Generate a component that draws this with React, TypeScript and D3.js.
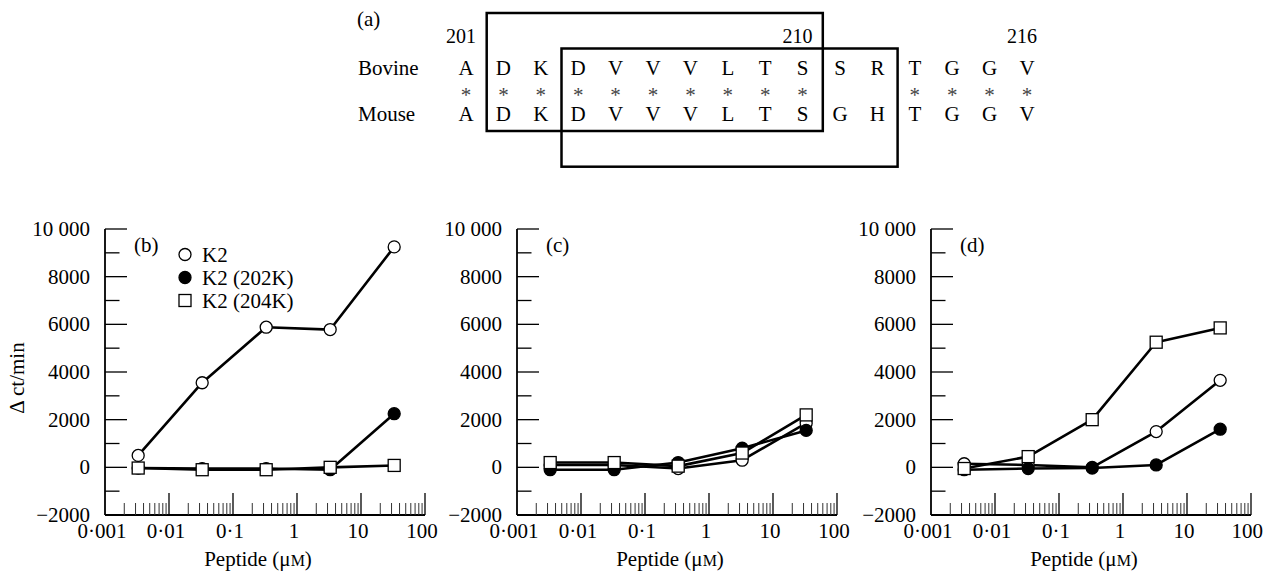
import React, { useEffect, useRef } from 'react';
import * as d3 from 'd3';

// peptide concentrations (µM) tested in every panel
const concentrations = [0.0033, 0.033, 0.33, 3.3, 33];

// panel (b)
const panelB_K2 = [500, 3550, 5880, 5780, 9250];
const panelB_202K = [-30, -50, -50, -100, 2250];
const panelB_204K = [-30, -100, -100, 0, 80];
// panel (c)
const panelC_K2 = [100, 100, -50, 300, 1850];
const panelC_202K = [-100, -100, 200, 800, 1550];
const panelC_204K = [200, 200, 50, 600, 2200];
// panel (d)
const panelD_K2 = [150, 100, 0, 1500, 3650];
const panelD_202K = [-100, -50, -30, 100, 1600];
const panelD_204K = [-50, 450, 2000, 5250, 5850];

const seriesNames = ['K2', 'K2 (202K)', 'K2 (204K)'];
const panelNames = ['(b)', '(c)', '(d)'];

// sequence alignment, residues 201-216
const firstResidue = 201;
const bovineSeq = ['A', 'D', 'K', 'D', 'V', 'V', 'V', 'L', 'T', 'S', 'S', 'R', 'T', 'G', 'G', 'V'];
const mouseSeq = ['A', 'D', 'K', 'D', 'V', 'V', 'V', 'L', 'T', 'S', 'G', 'H', 'T', 'G', 'G', 'V'];
const numberedResidues = [201, 210, 216];
const boxedRanges = [[202, 210], [204, 212]];

const yMajor = [-2000, 0, 2000, 4000, 6000, 8000, 10000];
const yMinor = [-1000, 1000, 3000, 5000, 7000, 9000];
const xMajor = [0.001, 0.01, 0.1, 1, 10, 100];
const xMajorLabels = ['0·001', '0·01', '0·1', '1', '10', '100'];

const FONT = '"Liberation Serif", "Times New Roman", serif';

const App = () => {
  const ref = useRef(null);

  useEffect(() => {
    document.body.style.margin = '0';
    const svg = d3.select(ref.current);
    svg.selectAll('*').remove();
    svg.attr('font-family', FONT).attr('fill', '#000');

    // ---------- (a) sequence alignment ----------
    const residues = d3.range(firstResidue, firstResidue + bovineSeq.length);
    const sx = d3.scaleLinear().domain([201, 216]).range([466, 1027]);
    const seq = svg.append('g').attr('font-size', 21);

    seq.append('text').attr('x', 357).attr('y', 26).text('(a)');
    seq.selectAll('.num').data(numberedResidues).join('text')
      .attr('x', d => sx(d) - 5).attr('y', 43).attr('font-size', 20)
      .attr('text-anchor', 'middle').text(d => d);

    seq.append('text').attr('x', 358).attr('y', 75).text('Bovine');
    seq.append('text').attr('x', 358).attr('y', 121).text('Mouse');

    seq.selectAll('.bov').data(bovineSeq).join('text')
      .attr('x', (d, i) => sx(residues[i])).attr('y', 75)
      .attr('text-anchor', 'middle').text(d => d);
    seq.selectAll('.mou').data(mouseSeq).join('text')
      .attr('x', (d, i) => sx(residues[i])).attr('y', 121)
      .attr('text-anchor', 'middle').text(d => d);
    seq.selectAll('.ast').data(bovineSeq.map((d, i) => (d === mouseSeq[i] ? residues[i] : null)).filter(d => d !== null))
      .join('text')
      .attr('x', d => sx(d)).attr('y', 102)
      .attr('text-anchor', 'middle').attr('fill', '#444').text('*');

    const boxY = [[13, 131], [48.5, 166.7]];
    boxedRanges.forEach(([a, b], i) => {
      const x0 = sx(a - 0.5) + 2;
      const x1 = sx(b + 0.5) + 1.5;
      seq.append('rect')
        .attr('x', x0).attr('y', boxY[i][0])
        .attr('width', x1 - x0).attr('height', boxY[i][1] - boxY[i][0])
        .attr('fill', 'none').attr('stroke', '#000').attr('stroke-width', 2.5);
    });

    // ---------- (b)-(d) dose response panels ----------
    const panels = [
      [panelB_K2, panelB_202K, panelB_204K],
      [panelC_K2, panelC_202K, panelC_204K],
      [panelD_K2, panelD_202K, panelD_204K],
    ];
    const panelLeft = [105, 517, 931];
    const top = 229;
    const w = 320;
    const h = 286;

    const x = d3.scaleLog().domain([0.001, 100]).range([0, w]);
    const y = d3.scaleLinear().domain([-2000, 10000]).range([h, 0]);
    const xMinor = xMajor.slice(0, -1).flatMap(d => d3.range(2, 10).map(k => d * k));
    const fmtY = v => (v === 10000 ? '10 000' : v < 0 ? '\u2212' + Math.abs(v) : String(v));

    panels.forEach((series, p) => {
      const g = svg.append('g').attr('transform', `translate(${panelLeft[p]},${top})`);

      // axes
      g.append('line').attr('x1', 0).attr('x2', 0).attr('y1', 0).attr('y2', h)
        .attr('stroke', '#000').attr('stroke-width', 1.8);
      g.append('line').attr('x1', 0).attr('x2', w).attr('y1', h).attr('y2', h)
        .attr('stroke', '#000').attr('stroke-width', 1.8);

      g.selectAll('.ymaj').data(yMajor).join('line')
        .attr('x1', 0).attr('x2', 22).attr('y1', d => y(d)).attr('y2', d => y(d))
        .attr('stroke', '#000').attr('stroke-width', 1.3);
      g.selectAll('.ymin').data(yMinor).join('line')
        .attr('x1', 0).attr('x2', 14.5).attr('y1', d => y(d)).attr('y2', d => y(d))
        .attr('stroke', '#000').attr('stroke-width', 1.3);
      g.selectAll('.ylab').data(yMajor).join('text')
        .attr('x', -15).attr('y', d => y(d) + 7)
        .attr('text-anchor', 'end').attr('font-size', 21).text(fmtY);

      g.selectAll('.xmaj').data(xMajor.slice(1)).join('line')
        .attr('x1', d => x(d)).attr('x2', d => x(d)).attr('y1', h).attr('y2', h - 22)
        .attr('stroke', '#000').attr('stroke-width', 1.3);
      g.selectAll('.xmin').data(xMinor).join('line')
        .attr('x1', d => x(d)).attr('x2', d => x(d)).attr('y1', h).attr('y2', h - 12)
        .attr('stroke', '#333').attr('stroke-width', 1);
      const last = xMajor.length - 1;
      g.selectAll('.xlab').data(xMajor).join('text')
        .attr('x', (d, i) => (p === 2 && i === last ? x(d) + 12 : x(d) - 3)).attr('y', h + 23)
        .attr('text-anchor', (d, i) => (p === 2 && i === last ? 'end' : 'middle'))
        .attr('font-size', 21)
        .text((d, i) => xMajorLabels[i]);

      const xl = g.append('text').attr('x', w / 2 - 7).attr('y', h + 51)
        .attr('text-anchor', 'middle').attr('font-size', 21);
      xl.append('tspan').text('Peptide (\u03bc');
      xl.append('tspan').attr('font-size', 16).text('M');
      xl.append('tspan').text(')');

      g.append('text').attr('x', 29).attr('y', 23).attr('font-size', 21).text(panelNames[p]);

      // series lines
      const line = d3.line()
        .x((d, i) => x(concentrations[i]))
        .y(d => y(d));
      series.forEach(vals => {
        g.append('path').datum(vals).attr('d', line)
          .attr('fill', 'none').attr('stroke', '#000').attr('stroke-width', 2.6)
          .attr('stroke-linejoin', 'round');
      });

      // markers: open circle, filled circle, open square
      g.selectAll('.m0').data(series[0]).join('circle')
        .attr('cx', (d, i) => x(concentrations[i])).attr('cy', d => y(d)).attr('r', 6)
        .attr('fill', '#fff').attr('stroke', '#000').attr('stroke-width', 1.3);
      g.selectAll('.m1').data(series[1]).join('circle')
        .attr('cx', (d, i) => x(concentrations[i])).attr('cy', d => y(d)).attr('r', 6)
        .attr('fill', '#000').attr('stroke', '#000').attr('stroke-width', 1.3);
      g.selectAll('.m2').data(series[2]).join('rect')
        .attr('x', (d, i) => x(concentrations[i]) - 6).attr('y', d => y(d) - 6)
        .attr('width', 12).attr('height', 12)
        .attr('fill', '#fff').attr('stroke', '#000').attr('stroke-width', 1.3);

      if (p === 0) {
        // y label
        g.append('text')
          .attr('transform', `translate(${-81},${h / 2 + 6}) rotate(-90)`)
          .attr('text-anchor', 'middle').attr('font-size', 21)
          .text('\u0394 ct/min');

        // legend
        const lg = g.append('g').attr('font-size', 21);
        seriesNames.forEach((name, i) => {
          const cy = 25.5 + i * 23;
          if (i < 2) {
            lg.append('circle').attr('cx', 80).attr('cy', cy).attr('r', 6)
              .attr('fill', i === 0 ? '#fff' : '#000').attr('stroke', '#000').attr('stroke-width', 1.3);
          } else {
            lg.append('rect').attr('x', 74).attr('y', cy - 6).attr('width', 12).attr('height', 12)
              .attr('fill', '#fff').attr('stroke', '#000').attr('stroke-width', 1.3);
          }
          lg.append('text').attr('x', 97).attr('y', cy + 7).text(name);
        });
      }
    });
  }, []);

  return <svg ref={ref} width={1264} height={572} style={{ display: 'block', background: '#fff' }} />;
};

export default App;
